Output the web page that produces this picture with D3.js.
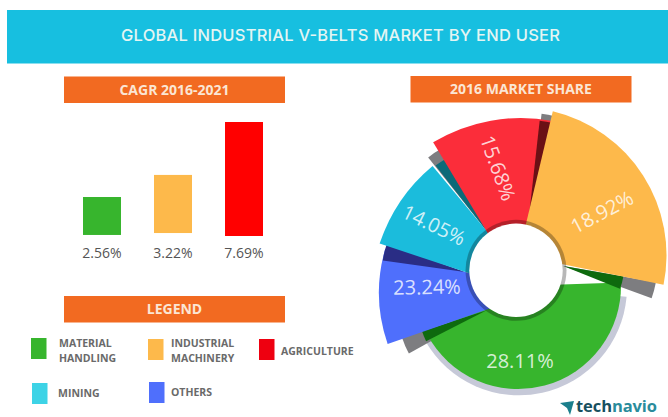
<!DOCTYPE html>
<html lang="en">
<head>
<meta charset="UTF-8">
<title>Global Industrial V-Belts Market by End User</title>
<script src="https://d3js.org/d3.v7.min.js"></script>
<style>
    body { margin: 0; background: #fff; }
    svg { display: block; }
    text { font-family: "Open Sans", sans-serif; }
</style>
</head>
<body>
<svg id="chart" width="668" height="417"></svg>
<script>
// Bars: the drawn lengths do not follow the printed labels, so both are kept
const cagrLabels = ["2.56%", "3.22%", "7.69%"];
const barTops = [2.63, 4.12, 7.69];
const barLows = [0.07, 0.2, 0];
const barKeys = ["green", "yellow", "pure"];

// Donut: slices are drawn as pictured (angles in degrees from 12 o'clock), not by share
const shareLabels = ["18.92%", "28.11%", "23.24%", "14.05%", "15.68%"];
const sliceFrom = [13.4, 88, 250.9, 288.3, 329];
const sliceTo = [101.5, 242, 286.2, 320.2, 370.8];
const sliceReach = [148, 103, 157, 171, 170];
const sliceKeys = ["yellow", "green", "blue", "cyan", "red"];

const legendLines = [["MATERIAL", "HANDLING"], ["INDUSTRIAL", "MACHINERY"], ["AGRICULTURE"], ["MINING"], ["OTHERS"]];
const legendKeys = ["green", "yellow", "legendRed", "legendCyan", "blue"];

const colors = {
    green: "#37b52d", yellow: "#fdb94b", pure: "#ff0000", blue: "#4f6ffc", cyan: "#1bbcdc", red: "#fb2d3a",
    legendRed: "#ee0010", legendCyan: "#3dd3e6", tab: "#7d7d80", rim: "#c6c9d8",
    darkGreen: "#0e6a0e", navy: "#2a2d85", teal: "#0c6a78", darkRed: "#6b1015"
};

const svg = d3.select("#chart");

// banner and section heads
svg.append("rect").attr("x", 7).attr("y", 10).attr("width", 661).attr("height", 53.5).attr("fill", "#17bfe0");
svg.append("text").attr("x", 340.5).attr("y", 41).attr("text-anchor", "middle")
    .attr("fill", "#e4f5f3").attr("font-size", 16.5).style("font-family", "Inter").style("font-weight", 500)
    .attr("textLength", 439).text("GLOBAL INDUSTRIAL V-BELTS MARKET BY END USER");

const heads = [
    { x: 64, y: 76.5, text: "CAGR 2016-2021" },
    { x: 64, y: 296, text: "LEGEND" },
    { x: 410.5, y: 76, text: "2016 MARKET SHARE" }
];
const headGroup = svg.selectAll(".head").data(heads).enter().append("g").attr("class", "head");
headGroup.append("rect").attr("x", d => d.x).attr("y", d => d.y).attr("width", 221).attr("height", 26.5).attr("fill", "#f26a21");
headGroup.append("text").attr("x", d => d.x + 110.5).attr("y", d => d.y + 18.3).attr("text-anchor", "middle")
    .attr("fill", "#fbe6d4").attr("font-size", 14).attr("font-weight", 700).text(d => d.text);

// bars
const x = d3.scaleBand().domain(d3.range(barTops.length)).range([83, 263]).paddingInner(0.465);
const y = d3.scaleLinear().domain([0, 7.69]).range([236, 122]);
svg.selectAll(".bar").data(barTops).enter().append("rect").attr("class", "bar")
    .attr("x", (d, i) => x(i))
    .attr("y", d => y(d))
    .attr("width", x.bandwidth())
    .attr("height", (d, i) => y(barLows[i]) - y(d))
    .attr("fill", (d, i) => colors[barKeys[i]]);
svg.selectAll(".barLabel").data(cagrLabels).enter().append("text").attr("class", "barLabel")
    .attr("x", (d, i) => x(i) + x.bandwidth() / 2)
    .attr("y", 258).attr("text-anchor", "middle")
    .attr("fill", "#555").attr("font-size", 14).text(d => d);

// donut
const cx = 516, cy = 270.3;
const shiftX = [2.5, 2, 20, 26, 4.7];
const shiftY = [-15, 15.7, 22.3, 27, 17.7];
const rad = d3.scaleLinear().domain([0, 360]).range([0, 2 * Math.PI]);
const arc = d3.arc().innerRadius(0)
    .startAngle(d => rad(d.from)).endAngle(d => rad(d.to)).outerRadius(d => d.reach);

const tabs = [
    { dx: 47.3, dy: -4.3, from: 100, to: 110, reach: 94, fill: colors.tab },
    { dx: -29.3, dy: 40, from: 241, to: 252, reach: 89, fill: colors.tab },
    { dx: -29.3, dy: -39.3, from: 321.5, to: 331, reach: 94, fill: colors.tab },
    { dx: 12.3, dy: -48.3, from: 7, to: 14, reach: 109, fill: colors.tab }
];
const shades = [
    { owner: "green", dx: 47.3, dy: -4.3, from: 100, to: 111.8, reach: 61, fill: colors.darkGreen },
    { owner: "green", dx: -29.3, dy: 40, from: 243, to: 252, reach: 68, fill: colors.darkGreen },
    { owner: "blue", dx: -51, dy: 1.7, from: 278, to: 290, reach: 83, fill: colors.navy },
    { owner: "cyan", dx: -29.3, dy: -39.3, from: 322, to: 331, reach: 83, fill: colors.teal },
    { owner: "red", dx: 12.3, dy: -48.3, from: 6.4, to: 14, reach: 102, fill: colors.darkRed }
];
const slices = sliceKeys.map((key, i) => ({
    key, dx: shiftX[i], dy: shiftY[i], from: sliceFrom[i], to: sliceTo[i], reach: sliceReach[i], fill: colors[key]
}));

// paint order: lowest slice first, each with the shadow cast on it
const layers = [{ dx: 3, dy: 17, from: 95, to: 240, reach: 108, fill: colors.rim }].concat(tabs);
["green", "blue", "cyan", "red", "yellow"].forEach(key => {
    layers.push(slices.find(s => s.key === key));
    shades.filter(s => s.owner === key).forEach(s => layers.push(s));
});

const pie = svg.append("g").attr("transform", `translate(${cx},${cy})`);
pie.selectAll(".wedge").data(layers).enter().append("path").attr("class", "wedge")
    .attr("transform", d => `translate(${d.dx},${d.dy})`)
    .attr("d", arc)
    .attr("fill", d => d.fill);
pie.append("circle").attr("r", 50.5).attr("fill", "#000").attr("opacity", 0.28);
pie.append("circle").attr("r", 46.7).attr("fill", "#fff");

const shareSpots = [
    { x: 602, y: 212, turn: -28 },
    { x: 520, y: 361, turn: 0 },
    { x: 427, y: 287, turn: -1 },
    { x: 434, y: 225, turn: 26 },
    { x: 498, y: 168, turn: 70 }
];
svg.selectAll(".share").data(shareLabels).enter().append("text").attr("class", "share")
    .attr("transform", (d, i) => `translate(${shareSpots[i].x},${shareSpots[i].y}) rotate(${shareSpots[i].turn})`)
    .attr("text-anchor", "middle").attr("dy", "0.36em")
    .attr("fill", "#fff").attr("fill-opacity", 0.8).attr("font-size", 20).text(d => d);

// legend
const legendSpots = [
    { x: 31, y: 338, tx: 59, ty: 347 },
    { x: 148, y: 339, tx: 171, ty: 347 },
    { x: 259, y: 339, tx: 281, ty: 355 },
    { x: 32, y: 383, tx: 58, ty: 397 },
    { x: 149, y: 382, tx: 171, ty: 396 }
];
const legend = svg.selectAll(".legendItem").data(legendKeys).enter().append("g").attr("class", "legendItem");
legend.append("rect")
    .attr("x", (d, i) => legendSpots[i].x).attr("y", (d, i) => legendSpots[i].y)
    .attr("width", 15.5).attr("height", 21)
    .attr("fill", d => colors[d]);
legend.each(function (d, i) {
    d3.select(this).selectAll("text").data(legendLines[i]).enter().append("text")
        .attr("x", legendSpots[i].tx)
        .attr("y", (t, j) => legendSpots[i].ty + j * 15)
        .attr("fill", "#6a6a6a").attr("font-size", 10.5).attr("font-weight", 700)
        .text(t => t);
});

// logo
svg.append("path").attr("d", "M560 403 L574 401 L570 415 L567 408 Z").attr("fill", "#1b7f8c");
const logo = svg.append("text").attr("x", 576).attr("y", 412).attr("font-size", 16.5).attr("font-weight", 700)
    .attr("textLength", 81);
logo.append("tspan").attr("fill", "#17505f").text("tech");
logo.append("tspan").attr("fill", "#2a8c9c").text("navio");
</script>
</body>
</html>
